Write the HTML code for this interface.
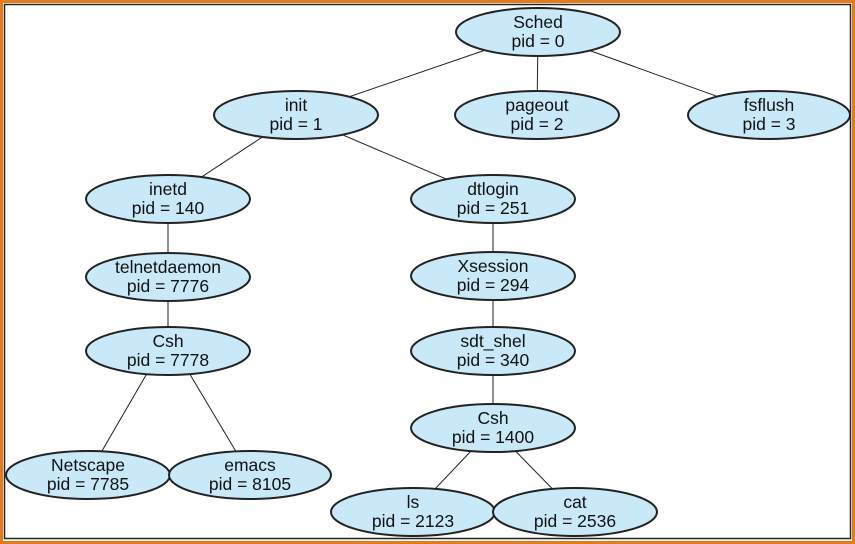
<!DOCTYPE html>
<html><head><style>html,body{margin:0;padding:0;background:#fff}svg{display:block}</style></head><body>
<svg width="855" height="544" xmlns="http://www.w3.org/2000/svg" font-family="Liberation Sans, sans-serif" font-size="17.5">
<rect x="1.5" y="1.5" width="852" height="541" fill="#fff" stroke="#e07b1e" stroke-width="3"/>
<rect x="4.5" y="4.5" width="846" height="534" fill="none" stroke="#222" stroke-width="1.5"/>
<g stroke="#222" stroke-width="1">
<line x1="538" y1="32" x2="296" y2="115"/>
<line x1="538" y1="32" x2="537" y2="115"/>
<line x1="538" y1="32" x2="769" y2="115"/>
<line x1="296" y1="115" x2="168" y2="199"/>
<line x1="296" y1="115" x2="493" y2="199"/>
<line x1="168" y1="199" x2="168" y2="351"/>
<line x1="493" y1="199" x2="493" y2="428"/>
<line x1="160" y1="351" x2="88" y2="475"/>
<line x1="176" y1="351" x2="250" y2="475"/>
<line x1="493" y1="428" x2="413" y2="512"/>
<line x1="493" y1="428" x2="575" y2="512"/>
</g>
<g fill="#c9e9f9" stroke="#222" stroke-width="2">
<ellipse cx="538" cy="32" rx="82" ry="24"/>
<ellipse cx="296" cy="115" rx="82" ry="24"/>
<ellipse cx="537" cy="115" rx="82" ry="24"/>
<ellipse cx="769" cy="115" rx="81" ry="24"/>
<ellipse cx="168" cy="199" rx="82" ry="24"/>
<ellipse cx="493" cy="199" rx="82" ry="24"/>
<ellipse cx="168" cy="277" rx="82" ry="24"/>
<ellipse cx="493" cy="276" rx="82" ry="24"/>
<ellipse cx="168" cy="351" rx="82" ry="24"/>
<ellipse cx="493" cy="351" rx="82" ry="24"/>
<ellipse cx="493" cy="428" rx="82" ry="24"/>
<ellipse cx="88" cy="475" rx="82" ry="24"/>
<ellipse cx="250" cy="475" rx="81" ry="24"/>
<ellipse cx="413" cy="512" rx="82" ry="24"/>
<ellipse cx="575" cy="512" rx="82" ry="24"/>
</g>
<g fill="#111" text-anchor="middle">
<text x="538" y="28">Sched</text><text x="538" y="47">pid = 0</text>
<text x="296" y="111">init</text><text x="296" y="130">pid = 1</text>
<text x="537" y="111">pageout</text><text x="537" y="130">pid = 2</text>
<text x="769" y="111">fsflush</text><text x="769" y="130">pid = 3</text>
<text x="168" y="195">inetd</text><text x="168" y="214">pid = 140</text>
<text x="493" y="195">dtlogin</text><text x="493" y="214">pid = 251</text>
<text x="168" y="273">telnetdaemon</text><text x="168" y="292">pid = 7776</text>
<text x="493" y="272">Xsession</text><text x="493" y="291">pid = 294</text>
<text x="168" y="347">Csh</text><text x="168" y="366">pid = 7778</text>
<text x="493" y="347">sdt_shel</text><text x="493" y="366">pid = 340</text>
<text x="493" y="424">Csh</text><text x="493" y="443">pid = 1400</text>
<text x="88" y="471">Netscape</text><text x="88" y="490">pid = 7785</text>
<text x="250" y="471">emacs</text><text x="250" y="490">pid = 8105</text>
<text x="413" y="508">ls</text><text x="413" y="527">pid = 2123</text>
<text x="575" y="508">cat</text><text x="575" y="527">pid = 2536</text>
</g>
</svg>
</body></html>
